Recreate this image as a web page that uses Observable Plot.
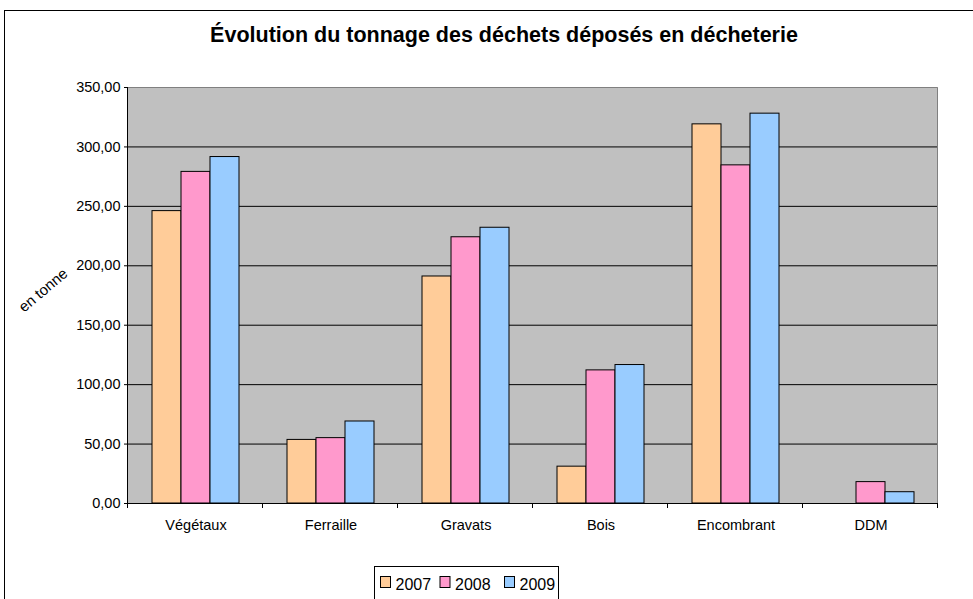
<!DOCTYPE html>
<html><head><meta charset="utf-8">
<script src="https://cdn.jsdelivr.net/npm/d3@7"></script>
<script src="https://cdn.jsdelivr.net/npm/@observablehq/plot@0.6"></script>
<style>
body{margin:0;background:#fff;}
#chart svg{display:block;font-family:"Liberation Sans",Arial,sans-serif;}
</style>
</head><body><div id="chart"></div>
<script>
const categories = ["Végétaux","Ferraille","Gravats","Bois","Encombrant","DDM"];
const years = ["2007","2008","2009"];
const values2007 = [246, 53.5, 191, 31, 319, 0];
const values2008 = [279, 55, 224, 112, 284.5, 18];
const values2009 = [291.5, 69, 232, 116.5, 328, 9.5];
const yTicks = [0, 50, 100, 150, 200, 250, 300, 350];
const colors = ["#FFCC99", "#FF99CC", "#99CCFF"];
const titleText = "Évolution du tonnage des déchets déposés en décheterie";
const yLabelText = "en tonne";

const series = [values2007, values2008, values2009];
const data = categories.flatMap((c, i) => years.map((y, j) => ({category: c, year: y, value: series[j][i]})))
  .filter(d => d.value > 0);

const W = 973, H = 599, mL = 126, mR = 34, mT = 87, mB = 96;
const fmt = v => d3.format(".2f")(v).replace(".", ",");

const plot = Plot.plot({
  width: W, height: H,
  marginLeft: mL, marginRight: mR, marginTop: mT, marginBottom: mB,
  style: {fontFamily: "'Liberation Sans', Arial, sans-serif", fontSize: "14.5px", background: "transparent", color: "#000"},
  fx: {domain: categories, padding: 0, label: null, axis: "bottom", tickSize: 0, tickPadding: 16},
  x: {domain: years, paddingInner: 0, paddingOuter: 0.76, axis: null},
  y: {domain: [0, 350], label: null, axis: "left", ticks: yTicks, tickFormat: fmt, tickSize: 4, tickPadding: 4},
  color: {domain: years, range: colors},
  marks: [
    Plot.ruleY(yTicks.filter(v => v > 0 && v < 350), {stroke: "#000", strokeWidth: 1}),
    Plot.barY(data, {fx: "category", x: "year", y: "value", fill: "year", stroke: "#000", strokeWidth: 1})
  ]
});

const svg = d3.select(plot);
const fxScale = plot.scale("fx");
const yScale = plot.scale("y");
const pLeft = fxScale.apply(categories[0]);
const pRight = fxScale.apply(categories[categories.length - 1]) + fxScale.bandwidth;
const pTop = yScale.apply(350), pBottom = yScale.apply(0);

// plot-area background
svg.insert("rect", "g")
  .attr("x", pLeft).attr("y", pTop).attr("width", pRight - pLeft).attr("height", pBottom - pTop)
  .attr("fill", "#C0C0C0");

// frame & axis lines
const over = svg.append("g");
over.append("path").attr("d", `M${pLeft},${pTop + 0.5}H${pRight - 0.5}V${pBottom}`)
  .attr("fill", "none").attr("stroke", "#808080").attr("stroke-width", 1);
over.append("line").attr("x1", pLeft - 0.5).attr("x2", pLeft - 0.5).attr("y1", pTop).attr("y2", pBottom)
  .attr("stroke", "#000");
over.append("line").attr("x1", pLeft - 4).attr("x2", pRight).attr("y1", pBottom + 0.5).attr("y2", pBottom + 0.5)
  .attr("stroke", "#000");
const bounds = categories.map(c => fxScale.apply(c)).concat([pRight]);
over.selectAll(".xt").data(bounds).join("line")
  .attr("x1", d => Math.round(d) - 0.5).attr("x2", d => Math.round(d) - 0.5)
  .attr("y1", pBottom).attr("y2", pBottom + 5).attr("stroke", "#000");

// outer chart border
svg.append("rect").attr("x", 4.5).attr("y", 10.5).attr("width", 1000).attr("height", 700)
  .attr("fill", "none").attr("stroke", "#000").attr("stroke-width", 1);

// title
svg.append("text").attr("x", 504).attr("y", 42).attr("text-anchor", "middle")
  .attr("font-size", "21.5px").attr("font-weight", "bold").attr("fill", "#000").text(titleText);

// y label
svg.append("text").attr("transform", "translate(43,290) rotate(-40)")
  .attr("text-anchor", "middle").attr("dy", "0.35em").attr("font-size", "15px").attr("fill", "#000")
  .text(yLabelText);

// legend
const lg = svg.append("g").attr("text-anchor", "start");
lg.append("rect").attr("x", 374.5).attr("y", 566.5).attr("width", 184).attr("height", 60)
  .attr("fill", "#fff").attr("stroke", "#000");
const colorScale = plot.scale("color");
const legendX = [380, 439.5, 504];
years.forEach((y, i) => {
  lg.append("rect").attr("x", legendX[i] + 0.5).attr("y", 576.5).attr("width", 10).attr("height", 11)
    .attr("fill", colorScale.apply(y)).attr("stroke", "#000");
  lg.append("text").attr("x", legendX[i] + 15.5).attr("y", 590).attr("text-anchor", "start")
    .attr("font-size", "16px").attr("fill", "#000").text(y);
});

document.getElementById("chart").appendChild(plot);
</script>
</body></html>
